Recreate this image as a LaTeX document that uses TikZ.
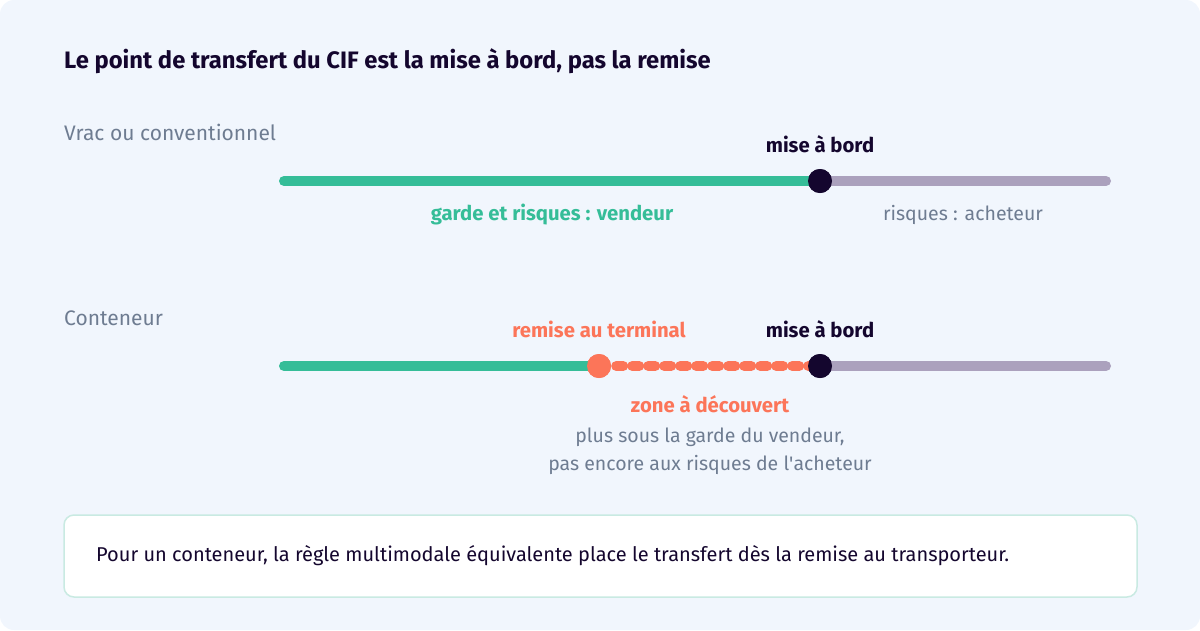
\documentclass[tikz,border=0pt]{standalone}
\usepackage{fontspec}
\setmainfont{Fira Sans}
\definecolor{bg}{HTML}{F1F6FD}
\definecolor{ink}{HTML}{14062E}
\definecolor{grn}{HTML}{35BD98}
\definecolor{gry}{HTML}{ABA1BD}
\definecolor{org}{HTML}{FC7559}
\definecolor{mut}{HTML}{6E7C91}
\definecolor{bdr}{HTML}{C9EAE2}
\begin{document}
\begin{tikzpicture}[x=1pt,y=-1pt,
 bar/.style={line width=10pt,line cap=round},
 dot/.style={circle,minimum size=24pt,inner sep=0pt},
 lbl/.style={inner sep=0pt,font=\fontsize{19.5}{22}\selectfont},
 bl/.style={lbl,font=\fontsize{20.3}{22}\selectfont\bfseries}]
\useasboundingbox (0,0) rectangle (1200,630);
\fill[bg,rounded corners=14pt] (0,0) rectangle (1200,630);
\node[bl,anchor=west,text=ink,font=\fontsize{23.8}{26}\selectfont\bfseries] (t) at (64,61) {Le point de transfert du CIF est la mise à bord, pas la remise};
\node[lbl,anchor=west,text=mut,font=\fontsize{21}{24}\selectfont] (r1) at (64,132) {Vrac ou conventionnel};
\node[lbl,anchor=west,text=mut,font=\fontsize{21}{24}\selectfont] (r2) at (64,318) {Conteneur};
% row 1
\coordinate (a1) at (284,181); \coordinate (e1) at (1106,181);
\node[dot,fill=ink] (m1) at (820,181) {};
\draw[bar,grn] (a1) -- (m1.center);
\draw[bar,gry] (m1.center) -- (e1);
\node[dot,fill=ink] at (m1) {};
\node[bl,text=ink] (ml1) at (820,144) {mise à bord};
\node[bl,text=grn] (g1) at (552,215) {garde et risques : vendeur};
\node[lbl,text=mut] (b1) at (963,215) {risques : acheteur};
% row 2
\coordinate (a2) at (284,366); \coordinate (e2) at (1106,366);
\node[dot,fill=org] (o2) at (599,366) {};
\node[dot,fill=ink] (m2) at (820,366) {};
\draw[bar,grn] (a2) -- (o2.center);
\draw[bar,gry] (m2.center) -- (e2);
\draw[line width=10pt,org,line cap=round,dash pattern=on 7pt off 9pt] ([xshift=5pt]o2.east) -- (m2.center);
\node[dot,fill=org] at (o2) {};
\node[dot,fill=ink] at (m2) {};
\node[bl,text=org] (rl) at (599,329) {remise au terminal};
\node[bl,text=ink] (ml2) at (820,329) {mise à bord};
\node[bl,text=org] (z) at (710,404) {zone à découvert};
\node[lbl,text=mut,align=center,font=\fontsize{19.5}{28}\selectfont] (zd) at (710,451) {plus sous la garde du vendeur,\\pas encore aux risques de l\textquotesingle acheteur};
% box
\draw[fill=white,draw=bdr,line width=1.5pt,rounded corners=10pt] (64,515) rectangle (1137,597);
\node[lbl,anchor=west,text=ink,font=\fontsize{20}{24}\selectfont] (n) at (96,556) {Pour un conteneur, la règle multimodale équivalente place le transfert dès la remise au transporteur.};
\end{tikzpicture}
\end{document}
